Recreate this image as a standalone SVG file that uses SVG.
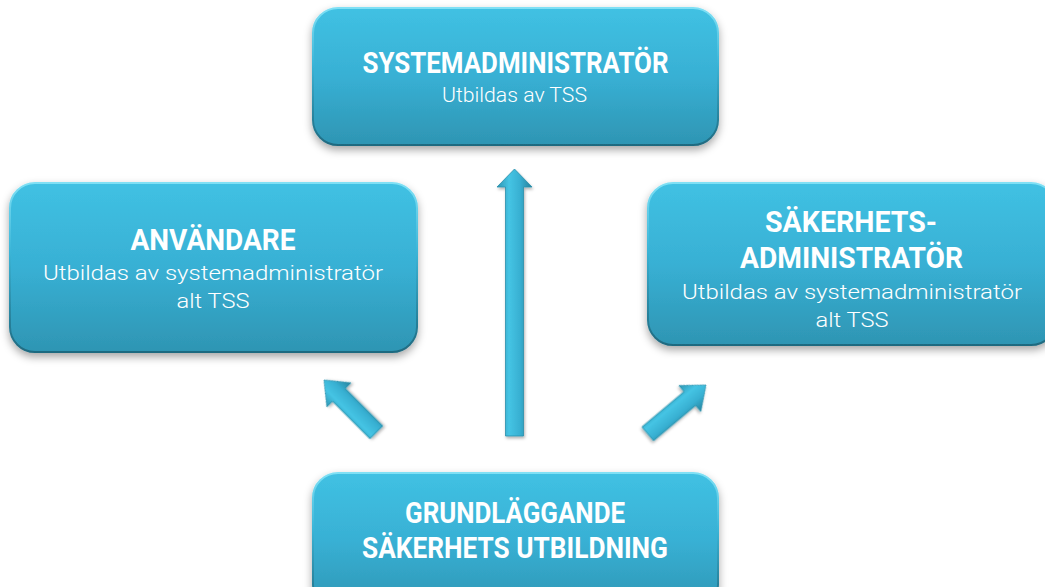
<svg xmlns="http://www.w3.org/2000/svg" width="1045" height="587" viewBox="0 0 1045 587">
<style>
.box{fill:url(#boxFill);stroke:url(#boxEdge);stroke-width:2;filter:url(#shadow)}
.title{font-family:Roboto,"Liberation Sans",sans-serif;font-weight:700;font-size:29px;fill:#ffffff;text-anchor:middle}
.sub{font-family:Roboto,"Liberation Sans",sans-serif;font-weight:300;font-size:21px;fill:#ffffff;text-anchor:middle}
.arrow{fill:url(#arrowFill);stroke:#2a8fab;stroke-width:0.8;filter:url(#ashadow)}
</style>
<defs>
<linearGradient id="boxFill" x1="0" y1="0" x2="0" y2="1">
<stop offset="0" stop-color="#40c1e3"/>
<stop offset="0.5" stop-color="#38b0d4"/>
<stop offset="1" stop-color="#2e95b3"/>
</linearGradient>
<linearGradient id="boxEdge" x1="0" y1="0" x2="0" y2="1">
<stop offset="0" stop-color="#7fe0f5"/>
<stop offset="0.4" stop-color="#3bb6d8"/>
<stop offset="1" stop-color="#1f6a80"/>
</linearGradient>
<linearGradient id="arrowFill" gradientUnits="userSpaceOnUse" x1="-18" y1="0" x2="18" y2="0">
<stop offset="0" stop-color="#2c93b0"/>
<stop offset="0.35" stop-color="#45c4e4"/>
<stop offset="0.65" stop-color="#38b0d2"/>
<stop offset="1" stop-color="#257f99"/>
</linearGradient>
<filter id="shadow" x="-10%" y="-10%" width="120%" height="130%">
<feDropShadow dx="0" dy="4" stdDeviation="4" flood-color="#000" flood-opacity="0.35"/>
</filter>
<filter id="ashadow" x="-50%" y="-20%" width="200%" height="140%">
<feDropShadow dx="1" dy="2" stdDeviation="1.5" flood-color="#000" flood-opacity="0.3"/>
</filter>
</defs>
<rect width="1045" height="587" fill="#ffffff"/>
<g id="connectors">
<polygon class="arrow" transform="translate(514.5,169)" points="0,0 17.5,18 9,18 9,267 -9,267 -9,18 -17.5,18"/>
<polygon class="arrow" transform="translate(324,380) rotate(-45)" points="0,0 17,21 9,21 9,74 -9,74 -9,21 -17,21"/>
<polygon class="arrow" transform="translate(706,385) rotate(50)" points="0,0 17,21 9,21 9,76 -9,76 -9,21 -17,21"/>
</g>
<g id="node-systemadministrator">
<rect class="box" x="313" y="8" width="405" height="137" rx="25" ry="25"/>
<text class="title" x="515.5" y="73" textLength="306" lengthAdjust="spacingAndGlyphs">SYSTEMADMINISTRATÖR</text>
<text class="sub" x="514.5" y="102" textLength="145" lengthAdjust="spacingAndGlyphs">Utbildas av TSS</text>
</g>
<g id="node-anvandare">
<rect class="box" x="10" y="183" width="407" height="169" rx="25" ry="25"/>
<text class="title" x="213" y="250" textLength="165" lengthAdjust="spacingAndGlyphs">ANVÄNDARE</text>
<text class="sub" x="213" y="280" textLength="340" lengthAdjust="spacingAndGlyphs">Utbildas av systemadministratör</text>
<text class="sub" x="213" y="308" textLength="73" lengthAdjust="spacingAndGlyphs">alt TSS</text>
</g>
<g id="node-sakerhetsadministrator">
<rect class="box" x="648" y="183" width="408" height="162" rx="25" ry="25"/>
<text class="title" x="851" y="232" textLength="172" lengthAdjust="spacingAndGlyphs">SÄKERHETS-</text>
<text class="title" x="851.5" y="268" textLength="223" lengthAdjust="spacingAndGlyphs">ADMINISTRATÖR</text>
<text class="sub" x="852" y="299" textLength="340" lengthAdjust="spacingAndGlyphs">Utbildas av systemadministratör</text>
<text class="sub" x="852" y="327" textLength="73" lengthAdjust="spacingAndGlyphs">alt TSS</text>
</g>
<g id="node-grundlaggande">
<rect class="box" x="313" y="473" width="405" height="137" rx="25" ry="25"/>
<text class="title" x="515" y="523" textLength="220" lengthAdjust="spacingAndGlyphs">GRUNDLÄGGANDE</text>
<text class="title" x="515" y="558" textLength="306" lengthAdjust="spacingAndGlyphs">SÄKERHETS UTBILDNING</text>
</g>
</svg>
